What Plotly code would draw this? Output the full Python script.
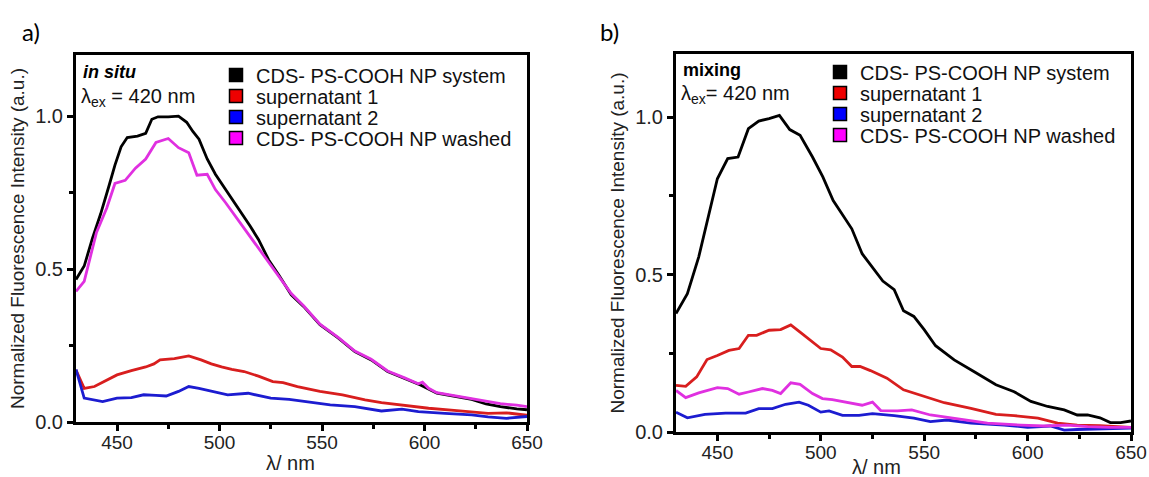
import plotly.graph_objects as go

# ---------------- data ----------------
# panel a) in situ
a_black_x = [430, 434, 438, 442, 446, 449, 452, 455, 460, 464, 467, 470, 475, 480, 484, 487, 490, 494, 498, 503,
             507, 511, 515, 519, 524, 529, 535, 541, 549, 558, 566, 574, 582, 590, 598, 606, 615, 623, 630, 637, 645, 650]
a_black_y = [0.466, 0.51, 0.60, 0.68, 0.77, 0.84, 0.90, 0.93, 0.935, 0.944, 0.99, 0.998, 0.998, 1.0, 0.98, 0.95,
             0.925, 0.86, 0.81, 0.76, 0.72, 0.684, 0.64, 0.597, 0.53, 0.48, 0.416, 0.378, 0.318, 0.274, 0.23, 0.203,
             0.165, 0.143, 0.121, 0.094, 0.083, 0.074, 0.059, 0.05, 0.043, 0.04]

a_red_x = [430, 434, 439, 445, 450, 457, 464, 468, 471, 478, 485, 491, 496, 501, 506, 512, 519, 526, 531, 538, 549,
           560, 571, 579, 590, 602, 613, 623, 631, 640, 645, 650]
a_red_y = [0.17, 0.11, 0.116, 0.138, 0.154, 0.168, 0.18, 0.19, 0.203, 0.207, 0.216, 0.203, 0.19, 0.18, 0.172, 0.165,
           0.15, 0.132, 0.129, 0.116, 0.1, 0.089, 0.072, 0.063, 0.054, 0.045, 0.039, 0.034, 0.028, 0.03, 0.025, 0.022]

a_blue_x = [430, 434, 443, 450, 457, 463, 469, 474, 480, 485, 490, 496, 504, 514, 520, 525, 534, 541, 554, 566, 579,
            589, 597, 610, 623, 631, 640, 650]
a_blue_y = [0.172, 0.078, 0.067, 0.078, 0.08, 0.089, 0.087, 0.085, 0.1, 0.116, 0.11, 0.1, 0.089, 0.094, 0.085, 0.078,
            0.074, 0.067, 0.056, 0.05, 0.036, 0.042, 0.034, 0.028, 0.023, 0.017, 0.012, 0.018]

a_mag_x = [430, 434, 437, 440, 445, 449, 454, 459, 464, 469, 475, 480, 485, 489, 494, 498, 503, 507, 511, 517, 523,
           529, 535, 541, 549, 558, 566, 574, 582, 590, 597, 599, 602, 606, 615, 623, 630, 637, 645, 650]
a_mag_y = [0.427, 0.46, 0.54, 0.62, 0.70, 0.78, 0.79, 0.83, 0.86, 0.914, 0.927, 0.897, 0.88, 0.807, 0.81, 0.76, 0.717,
           0.68, 0.64, 0.586, 0.53, 0.476, 0.42, 0.38, 0.32, 0.276, 0.232, 0.205, 0.167, 0.145, 0.125, 0.13, 0.11,
           0.096, 0.085, 0.076, 0.067, 0.06, 0.055, 0.05]

# panel b) mixing
b_black_x = [430, 435.5, 441, 446, 450, 455, 460, 465, 470, 475, 480, 485, 490, 496, 501, 506, 510.5, 515, 520, 524,
             530, 535.5, 540, 545, 550, 555.5, 564.5, 574, 584.7, 593.5, 601.6, 609.7, 617.7, 624, 629, 635, 640, 645,
             650]
b_black_y = [0.376, 0.439, 0.556, 0.693, 0.804, 0.868, 0.873, 0.963, 0.987, 0.995, 1.005, 0.96, 0.942, 0.873, 0.81,
             0.735, 0.688, 0.645, 0.566, 0.53, 0.479, 0.452, 0.385, 0.367, 0.325, 0.274, 0.229, 0.192, 0.15, 0.128,
             0.097, 0.081, 0.07, 0.054, 0.054, 0.045, 0.03, 0.03, 0.035]

b_red_x = [430, 434.7, 440, 445, 450, 455.6, 460.5, 465, 469, 475, 480.6, 485.5, 490, 496, 500, 504.8, 510.5, 515,
           519, 524, 532, 540, 550, 559.7, 572.6, 584.7, 593.5, 605, 614.5, 624, 635, 650]
b_red_y = [0.148, 0.145, 0.175, 0.23, 0.243, 0.259, 0.265, 0.307, 0.307, 0.323, 0.325, 0.34, 0.317, 0.286, 0.265,
           0.261, 0.238, 0.208, 0.208, 0.195, 0.171, 0.134, 0.113, 0.093, 0.075, 0.056, 0.052, 0.044, 0.028, 0.022,
           0.02, 0.015]

b_blue_x = [430, 435.5, 444, 454, 463.7, 470, 476.6, 483, 489.5, 494, 500, 504, 510.5, 518.5, 525, 535.5, 545, 553,
            561, 572.6, 588.7, 600, 611, 617.7, 624, 635, 650]
b_blue_y = [0.063, 0.045, 0.056, 0.06, 0.06, 0.074, 0.074, 0.088, 0.095, 0.085, 0.063, 0.067, 0.053, 0.053, 0.058,
            0.052, 0.044, 0.033, 0.038, 0.028, 0.022, 0.015, 0.019, 0.006, 0.008, 0.01, 0.012]

b_mag_x = [430, 434.7, 441, 450, 455, 460.5, 465, 471.8, 476.6, 480.6, 485.5, 490, 496, 500.8, 505.6, 512, 520, 525,
           529, 537, 544, 553, 564.5, 580.6, 596.8, 608, 619, 629, 640, 650]
b_mag_y = [0.132, 0.109, 0.124, 0.141, 0.138, 0.12, 0.127, 0.138, 0.132, 0.122, 0.156, 0.151, 0.122, 0.106, 0.103,
           0.095, 0.085, 0.095, 0.068, 0.067, 0.07, 0.054, 0.044, 0.028, 0.022, 0.019, 0.022, 0.017, 0.015, 0.015]

series_names = ["CDS- PS-COOH NP system", "supernatant 1", "supernatant 2", "CDS- PS-COOH NP washed"]
x_ticks = [450, 500, 550, 600, 650]
y_ticks = [0.0, 0.5, 1.0]
x_title = "λ/ nm"
y_title = "Normalized Fluorescence Intensity (a.u.)"

line_colors = ["#000000", "#d81e1e", "#1c1cd0", "#e030e0"]
square_colors = ["#000000", "#ee0000", "#0000ff", "#ff00ff"]

FONT = "Liberation Sans, Arial, sans-serif"

panels = [
    dict(xa="x", ya="y", data=[(a_black_x, a_black_y), (a_red_x, a_red_y), (a_blue_x, a_blue_y), (a_mag_x, a_mag_y)],
         legend_x=216 / 1149, legend_rows=[75, 96, 117, 138]),
    dict(xa="x2", ya="y2", data=[(b_black_x, b_black_y), (b_red_x, b_red_y), (b_blue_x, b_blue_y), (b_mag_x, b_mag_y)],
         legend_x=820 / 1149, legend_rows=[72, 93, 114, 135]),
]

fig = go.Figure()
legend_layout = {}
leg_n = 1
for p in panels:
    for (xs, ys), col, nm in zip(p["data"], line_colors, series_names):
        fig.add_trace(go.Scatter(x=xs, y=ys, mode="lines", name=nm, showlegend=False,
                                 line=dict(color=col, width=2.8), xaxis=p["xa"], yaxis=p["ya"]))
    for i, nm in enumerate(series_names):
        key = "legend" if leg_n == 1 else f"legend{leg_n}"
        fig.add_trace(go.Scatter(x=[None], y=[None], mode="markers", name=nm, legend=key, showlegend=True,
                                 marker=dict(symbol="square", size=13, color=square_colors[i],
                                             line=dict(color="black", width=1.5)),
                                 xaxis=p["xa"], yaxis=p["ya"]))
        legend_layout[key] = dict(x=p["legend_x"], y=1 - p["legend_rows"][i] / 477, xanchor="left",
                                  yanchor="middle", xref="paper", yref="paper", bgcolor="rgba(0,0,0,0)",
                                  borderwidth=0, font=dict(family=FONT, size=20, color="#111"),
                                  itemwidth=30)
        leg_n += 1

axis_common = dict(showline=True, linecolor="black", linewidth=3, mirror=True, ticks="outside", ticklen=6,
                   tickwidth=2.5, tickcolor="black", showgrid=False, zeroline=False, automargin=False,
                   tickfont=dict(family=FONT, size=20, color="#222"))

xaxis_common = dict(axis_common, range=[430, 650], tickvals=x_ticks, ticklabelstandoff=-5,
                    tickfont=dict(family=FONT, size=19, color="#222"),
                    minor=dict(ticks="outside", dtick=25, tick0=450, ticklen=4, tickwidth=2.5,
                               tickcolor="black", showgrid=False))
yaxis_common = dict(axis_common, range=[0, 1.2], tickvals=y_ticks, tickformat=".1f",
                    minor=dict(ticks="outside", dtick=0.25, tick0=0, ticklen=4, tickwidth=2.5,
                               tickcolor="black", showgrid=False),
                    title=dict(text=y_title, font=dict(family=FONT, size=19, color="#222"), standoff=6))

fig.update_layout(
    width=1149, height=477, margin=dict(l=0, r=0, t=0, b=0),
    paper_bgcolor="white", plot_bgcolor="white",
    xaxis=dict(xaxis_common, domain=[76 / 1149, 527 / 1149], anchor="y"),
    yaxis=dict(yaxis_common, domain=[(477 - 422) / 477, (477 - 55) / 477], anchor="x"),
    xaxis2=dict(xaxis_common, domain=[676 / 1149, 1131 / 1149], anchor="y2"),
    yaxis2=dict(yaxis_common, domain=[(477 - 432) / 477, (477 - 54) / 477], anchor="x2"),
    **legend_layout,
)

ann = [
    dict(text="a)", x=20 / 1149, y=1 - 31 / 477, xref="paper", yref="paper", xanchor="left", yanchor="middle",
         showarrow=False, font=dict(family="Lato, Carlito, sans-serif", size=24, color="black")),
    dict(text="b)", x=598 / 1149, y=1 - 31 / 477, xref="paper", yref="paper", xanchor="left", yanchor="middle",
         showarrow=False, font=dict(family="Lato, Carlito, sans-serif", size=24, color="black")),
    dict(text="<b><i>in situ</i></b>", x=0.012, y=0.954, xref="x domain", yref="y domain", xanchor="left",
         yanchor="middle", showarrow=False, font=dict(family=FONT, size=18, color="black")),
    dict(text="λ<sub>ex</sub> = 420 nm", x=0.006, y=0.885, xref="x domain", yref="y domain", xanchor="left",
         yanchor="middle", showarrow=False, font=dict(family=FONT, size=20, color="#111")),
    dict(text="<b>mixing</b>", x=0.012, y=0.958, xref="x2 domain", yref="y2 domain", xanchor="left",
         yanchor="middle", showarrow=False, font=dict(family=FONT, size=18, color="black")),
    dict(text="λ<sub>ex</sub>= 420 nm", x=0.006, y=0.893, xref="x2 domain", yref="y2 domain", xanchor="left",
         yanchor="middle", showarrow=False, font=dict(family=FONT, size=20, color="#111")),
    # x-axis titles
    dict(text=x_title, x=290 / 1149, y=1 - 463 / 477, xref="paper", yref="paper", xanchor="center",
         yanchor="middle", showarrow=False, font=dict(family=FONT, size=20, color="#222")),
    dict(text=x_title, x=876 / 1149, y=1 - 467 / 477, xref="paper", yref="paper", xanchor="center",
         yanchor="middle", showarrow=False, font=dict(family=FONT, size=20, color="#222")),
]
fig.update_layout(annotations=ann)

fig.write_html("out.html")
